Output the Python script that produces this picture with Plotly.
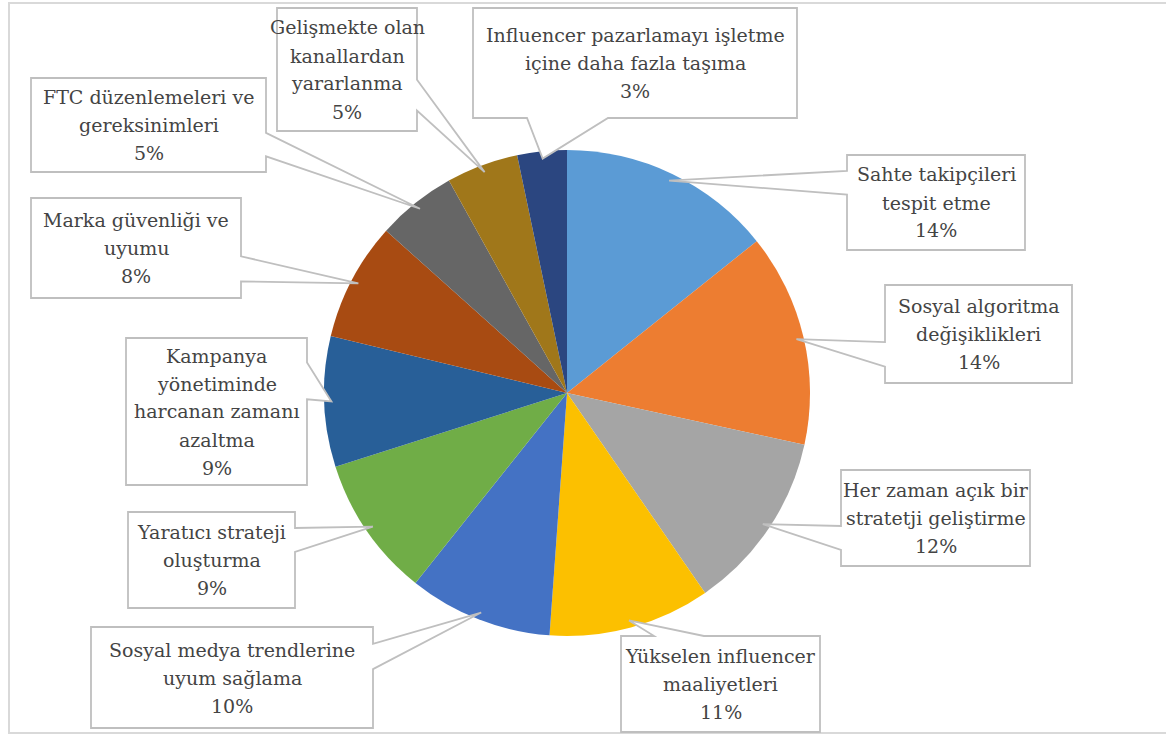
import math
import plotly.graph_objects as go

# ---- data ----
categories = [
    "Sahte takipçileri tespit etme",
    "Sosyal algoritma değişiklikleri",
    "Her zaman açık bir stratetji geliştirme",
    "Yükselen influencer maaliyetleri",
    "Sosyal medya trendlerine uyum sağlama",
    "Yaratıcı strateji oluşturma",
    "Kampanya yönetiminde harcanan zamanı azaltma",
    "Marka güvenliği ve uyumu",
    "FTC düzenlemeleri ve gereksinimleri",
    "Gelişmekte olan kanallardan yararlanma",
    "Influencer pazarlamayı işletme içine daha fazla taşıma",
]
values = [14.3, 14.2, 12.0, 10.8, 9.6, 9.4, 8.7, 7.9, 5.3, 4.8, 3.3]
label_lines = [
    ["Sahte takipçileri", "tespit etme"],
    ["Sosyal algoritma", "değişiklikleri"],
    ["Her zaman açık bir", "stratetji geliştirme"],
    ["Yükselen influencer", "maaliyetleri"],
    ["Sosyal medya trendlerine", "uyum sağlama"],
    ["Yaratıcı strateji", "oluşturma"],
    ["Kampanya", "yönetiminde", "harcanan zamanı", "azaltma"],
    ["Marka güvenliği ve", "uyumu"],
    ["FTC düzenlemeleri ve", "gereksinimleri"],
    ["Gelişmekte olan", "kanallardan", "yararlanma"],
    ["Influencer pazarlamayı işletme", "içine daha fazla taşıma"],
]
colors = ["#5b9bd5", "#ed7d31", "#a5a5a5", "#fcc000", "#4472c4", "#70ad47",
          "#285f98", "#a84b12", "#666666", "#a0771a", "#2b4680"]

# ---- layout (pixels) ----
W, H = 1166, 737
CX, CY, R = 567, 393, 243
boxes = [  # x0, y0, x1, y1
    (847, 155, 1025, 250),
    (885, 285, 1072, 383),
    (841, 470, 1030, 566),
    (621, 636, 820, 732),
    (91, 627, 373, 728),
    (128, 512, 295, 608),
    (126, 338, 307, 485),
    (31, 198, 241, 298),
    (31, 78, 266, 172),
    (277, 8, 417, 131),
    (473, 8, 797, 118),
]
LINE_H = 28
FONT = dict(family="DejaVu Serif", size=19, color="#444444")
EDGE = "#bfbfbf"


def px(x, y):
    return x / W, 1 - y / H


fig = go.Figure()
fig.add_trace(go.Pie(
    labels=categories, values=values, sort=False, direction="clockwise",
    rotation=0, textinfo="none", hoverinfo="label+percent",
    marker=dict(colors=colors, line=dict(width=0)),
    domain=dict(x=[(CX - R) / W, (CX + R) / W], y=[1 - (CY + R) / H, 1 - (CY - R) / H]),
    showlegend=False,
))

shapes = [dict(type="rect", xref="paper", yref="paper", layer="below",
               x0=9 / W, x1=1.02, y0=1 - 733 / H, y1=1 - 3 / H,
               line=dict(color="#d9d9d9", width=2), fillcolor="rgba(0,0,0,0)")]
annotations = []

total = sum(values)
cum = 0.0
for i, v in enumerate(values):
    mid = (cum + v / 2) / total * 2 * math.pi
    cum += v
    tx = CX + R * 0.97 * math.sin(mid)
    ty = CY - R * 0.97 * math.cos(mid)
    x0, y0, x1, y1 = boxes[i]
    w, h = x1 - x0, y1 - y0
    bx, by = (x0 + x1) / 2, (y0 + y1) / 2
    dx, dy = tx - bx, ty - by
    fx = (7, 10) if dx > 0 else (2, 5)
    fy = (7, 10) if dy > 0 else (2, 5)
    bxa, bxb = x0 + w * fx[0] / 12, x0 + w * fx[1] / 12
    bya, byb = y0 + h * fy[0] / 12, y0 + h * fy[1] / 12
    pts = []
    vertical = abs(dy) / h > abs(dx) / w
    pts.append((x0, y0))
    if vertical and dy < 0:
        pts += [(bxa, y0), (tx, ty), (bxb, y0)]
    pts.append((x1, y0))
    if (not vertical) and dx > 0:
        pts += [(x1, bya), (tx, ty), (x1, byb)]
    pts.append((x1, y1))
    if vertical and dy > 0:
        pts += [(bxb, y1), (tx, ty), (bxa, y1)]
    pts.append((x0, y1))
    if (not vertical) and dx < 0:
        pts += [(x0, byb), (tx, ty), (x0, bya)]
    path = ""
    for k, (a, b) in enumerate(pts):
        X, Y = px(a, b)
        path += ("M" if k == 0 else "L") + f"{X:.5f},{Y:.5f} "
    path += "Z"
    shapes.append(dict(type="path", xref="paper", yref="paper", path=path,
                       layer="above", fillcolor="white",
                       line=dict(color=EDGE, width=1.8)))
    pct = f"{round(v / total * 100)}%"
    lines = label_lines[i] + [pct]
    n = len(lines)
    for j, t in enumerate(lines):
        ly = by + (j - (n - 1) / 2) * LINE_H
        X, Y = px(bx, ly)
        annotations.append(dict(x=X, y=Y, xref="paper", yref="paper", text=t,
                                showarrow=False, xanchor="center", yanchor="middle",
                                font=FONT))

fig.update_layout(
    width=W, height=H, margin=dict(l=0, r=0, t=0, b=0),
    paper_bgcolor="white", plot_bgcolor="white",
    shapes=shapes, annotations=annotations,
)
fig.write_html("out.html")
